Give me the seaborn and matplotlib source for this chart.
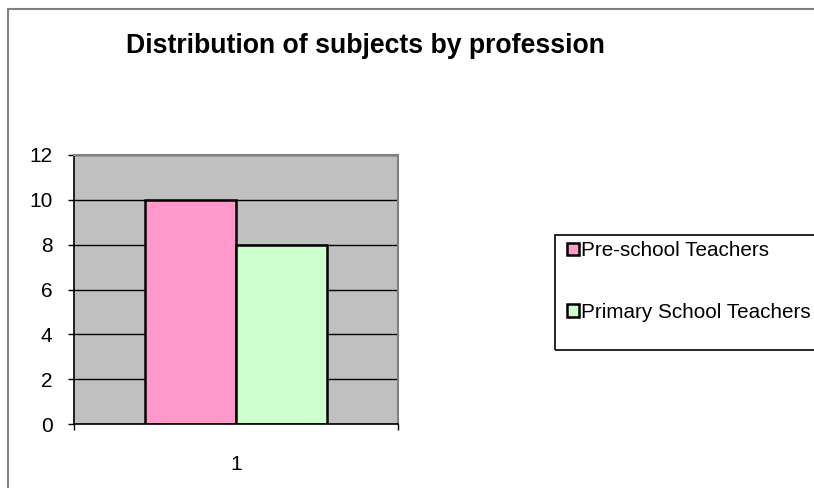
import pandas as pd
import numpy as np
import matplotlib
matplotlib.use("Agg")
import matplotlib.pyplot as plt
import seaborn as sns
from matplotlib.patches import Rectangle

# data
categories = ["1"]
groups = ["Pre-school Teachers", "Primary School Teachers"]
counts = [10, 8]
colors = ["#FF99CC", "#CCFFCC"]
y_ticks = [0, 2, 4, 6, 8, 10, 12]

df = pd.DataFrame({
    "category": categories * len(groups),
    "group": groups,
    "count": counts,
})

sns.set_style("white")
plt.rcParams["font.family"] = ["Liberation Sans", "DejaVu Sans"]
plt.rcParams["text.color"] = "black"
plt.rcParams["xtick.color"] = "black"
plt.rcParams["ytick.color"] = "black"

W, H = 814, 488
fig = plt.figure(figsize=(W / 100, H / 100), dpi=100)
fig.patch.set_facecolor("white")

# axes placed in pixel terms
left, right, top, bottom = 74, 398, 155, 424
ax = fig.add_axes([left / W, 1 - bottom / H, (right - left) / W, (bottom - top) / H])
ax.set_facecolor("#C0C0C0")

sns.barplot(data=df, x="category", y="count", hue="group", palette=colors,
            saturation=1, width=0.562, edgecolor="black", linewidth=1.8, ax=ax)
handles, labels = ax.get_legend_handles_labels()
ax.get_legend().remove()

ax.set_xlim(-0.5, 0.5)
ax.set_ylim(0, 12)
ax.set_yticks(y_ticks)
ax.yaxis.grid(True, color="black", linewidth=1.0)
ax.set_axisbelow(True)
ax.set_xlabel("")
ax.set_ylabel("")

ax.set_xticks([-0.5, 0.5])
ax.set_xticklabels(["", ""])
ax.set_xticks([0], minor=True)
ax.set_xticklabels(categories, minor=True)
ax.tick_params(axis="x", which="major", length=4.5, width=1, color="black", direction="out")
ax.tick_params(axis="x", which="minor", length=0, pad=22, labelsize=15)
ax.tick_params(axis="y", length=4.5, width=1, color="black", direction="out",
               pad=11, labelsize=15)
ax.tick_params(axis="both", bottom=True, left=True)

for side in ["top", "right"]:
    ax.spines[side].set_color("#808080")
    ax.spines[side].set_linewidth(1.5)
for side in ["left", "bottom"]:
    ax.spines[side].set_color("black")
    ax.spines[side].set_linewidth(1.2)

# outer chart border (right and bottom run off the picture)
fig.patches.append(Rectangle((8 / W, -0.1), 1.1, 1 - 9 / H + 0.1, transform=fig.transFigure,
                             fill=False, edgecolor="#808080", linewidth=1.5))

fig.text(365 / W, 1 - 46 / H, "Distribution of subjects by profession",
         ha="center", va="center", fontsize=19.2, fontweight="bold")

# legend box, cut off at the right edge like the reference
fig.patches.append(Rectangle((555 / W, 1 - 350 / H), 0.5, 115 / H, transform=fig.transFigure,
                             fill=False, edgecolor="black", linewidth=1.2))
fig.legend(handles, labels, loc="upper left", bbox_to_anchor=(559 / W, 1 - 233 / H),
           frameon=False, fontsize=14.9, handlelength=0.55, handleheight=0.55,
           handletextpad=0.12, labelspacing=2.05, borderaxespad=0)

fig.savefig("out.png", dpi=100)
